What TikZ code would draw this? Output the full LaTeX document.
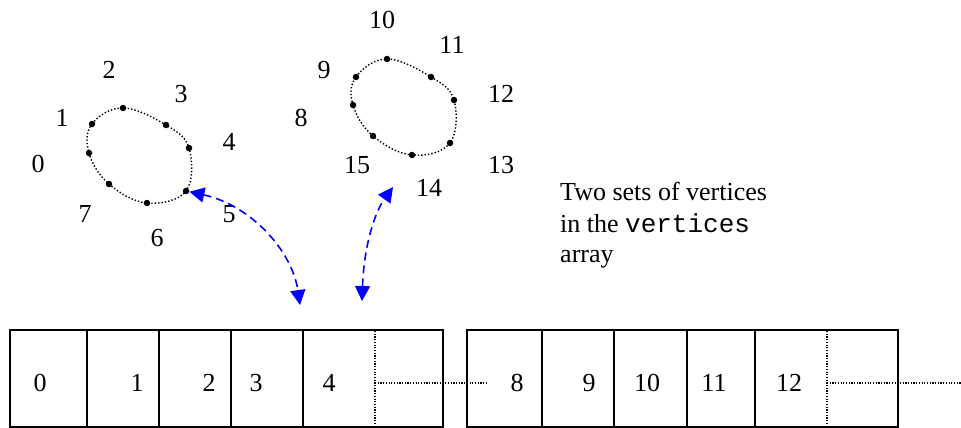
\documentclass[tikz,border=0pt]{standalone}
\usepackage{fontspec}
\setmainfont{Liberation Serif}
\setmonofont{Liberation Mono}
\usetikzlibrary{arrows.meta}
\begin{document}
\begin{tikzpicture}[x=1pt,y=-1pt,
  lbl/.style={inner sep=0pt,font=\fontsize{26}{31}\selectfont},
  vdot/.style={circle,fill=black,inner sep=0pt,minimum size=6.5pt},
  ring/.style={line width=1.4pt,dash pattern=on 1.4pt off 2pt},
  cell/.style={draw,line width=1.5pt,minimum height=97pt,inner sep=0pt},
  dotline/.style={line width=1.2pt,dash pattern=on 1.2pt off 1.5pt},
  link/.style={blue,line width=1.6pt,dash pattern=on 8pt off 5pt,
    {Triangle[length=15pt,width=15pt]}-{Triangle[length=15pt,width=15pt]}}]
\useasboundingbox (0,0) rectangle (961,428);
% left ring
\node[vdot] (a0) at (89,153) {};
\node[vdot] (a1) at (92,124) {};
\node[vdot] (a2) at (123,108) {};
\node[vdot] (a3) at (166,125) {};
\node[vdot] (a4) at (189,148) {};
\node[vdot] (a5) at (186,191) {};
\node[vdot] (a6) at (147,203) {};
\node[vdot] (a7) at (109,184) {};
\draw[ring] plot[smooth cycle,tension=0.65] coordinates {(89,153) (92,124) (123,108) (166,125) (189,148) (186,191) (147,203) (109,184)};
\node[lbl] (l0) at (38,164) {0};
\node[lbl] (l1) at (62,118) {1};
\node[lbl] (l2) at (109,70) {2};
\node[lbl] (l3) at (181,94) {3};
\node[lbl] (l4) at (229,142) {4};
\node[lbl] (l5) at (229,214) {5};
\node[lbl] (l6) at (157,238) {6};
\node[lbl] (l7) at (85,214) {7};
% right ring
\node[vdot] (b0) at (353,105) {};
\node[vdot] (b1) at (356,77) {};
\node[vdot] (b2) at (387,59) {};
\node[vdot] (b3) at (431,77) {};
\node[vdot] (b4) at (454,100) {};
\node[vdot] (b5) at (450,143) {};
\node[vdot] (b6) at (412,155) {};
\node[vdot] (b7) at (373,136) {};
\draw[ring] plot[smooth cycle,tension=0.65] coordinates {(353,105) (356,77) (387,59) (431,77) (454,100) (450,143) (412,155) (373,136)};
\node[lbl] (l8) at (301,118) {8};
\node[lbl] (l9) at (324,70) {9};
\node[lbl] (l10) at (382,20) {10};
\node[lbl] (l11) at (452,45) {11};
\node[lbl] (l12) at (501,94) {12};
\node[lbl] (l13) at (501,165) {13};
\node[lbl] (l14) at (429,188) {14};
\node[lbl] (l15) at (357,165) {15};
% caption
\node[lbl,anchor=base west] (t1) at (560,200) {Two sets of vertices};
\node[lbl,anchor=base west] (t2) at (560,232) {in the \texttt{vertices}};
\node[lbl,anchor=base west] (t3) at (560,262) {array};
% arrays
\node[cell,minimum width=77pt] (c0) at (48.5,378.5) {};
\node[cell,minimum width=72pt] (c1) at (123,378.5) {};
\node[cell,minimum width=72pt] (c2) at (195,378.5) {};
\node[cell,minimum width=72pt] (c3) at (267,378.5) {};
\node[cell,minimum width=140pt] (c4) at (373,378.5) {};
\node[cell,minimum width=75pt] (d0) at (504.5,378.5) {};
\node[cell,minimum width=72pt] (d1) at (578,378.5) {};
\node[cell,minimum width=73pt] (d2) at (650.5,378.5) {};
\node[cell,minimum width=68pt] (d3) at (721,378.5) {};
\node[cell,minimum width=143pt] (d4) at (826.5,378.5) {};
\node[lbl] (n0) at (40,383) {0};
\node[lbl] (n1) at (137,383) {1};
\node[lbl] (n2) at (209,383) {2};
\node[lbl] (n3) at (256,383) {3};
\node[lbl] (n4) at (329,383) {4};
\node[lbl] (m8) at (517,383) {8};
\node[lbl] (m9) at (589,383) {9};
\node[lbl] (m10) at (647,383) {10};
\node[lbl] (m11) at (714,383) {11};
\node[lbl] (m12) at (789,383) {12};
\coordinate (s1) at (375,331);
\coordinate (s2) at (375,426);
\coordinate (h1) at (375,383);
\coordinate (h2) at (488,383);
\coordinate (s3) at (827,331);
\coordinate (s4) at (827,426);
\coordinate (h3) at (827,383);
\coordinate (h4) at (961,383);
\draw[dotline] (s1) -- (s2);
\draw[dotline] (h1) -- (h2);
\draw[dotline] (s3) -- (s4);
\draw[dotline] (h3) -- (h4);
% links
\coordinate (e1) at (300,305);
\coordinate (e2) at (362,301);
\coordinate (e3) at (393,187);
\draw[link] (a5) .. controls (250,205) and (292,250) .. (e1);
\draw[link] (e2) .. controls (364,245) and (375,212) .. (e3);
\end{tikzpicture}
\end{document}
